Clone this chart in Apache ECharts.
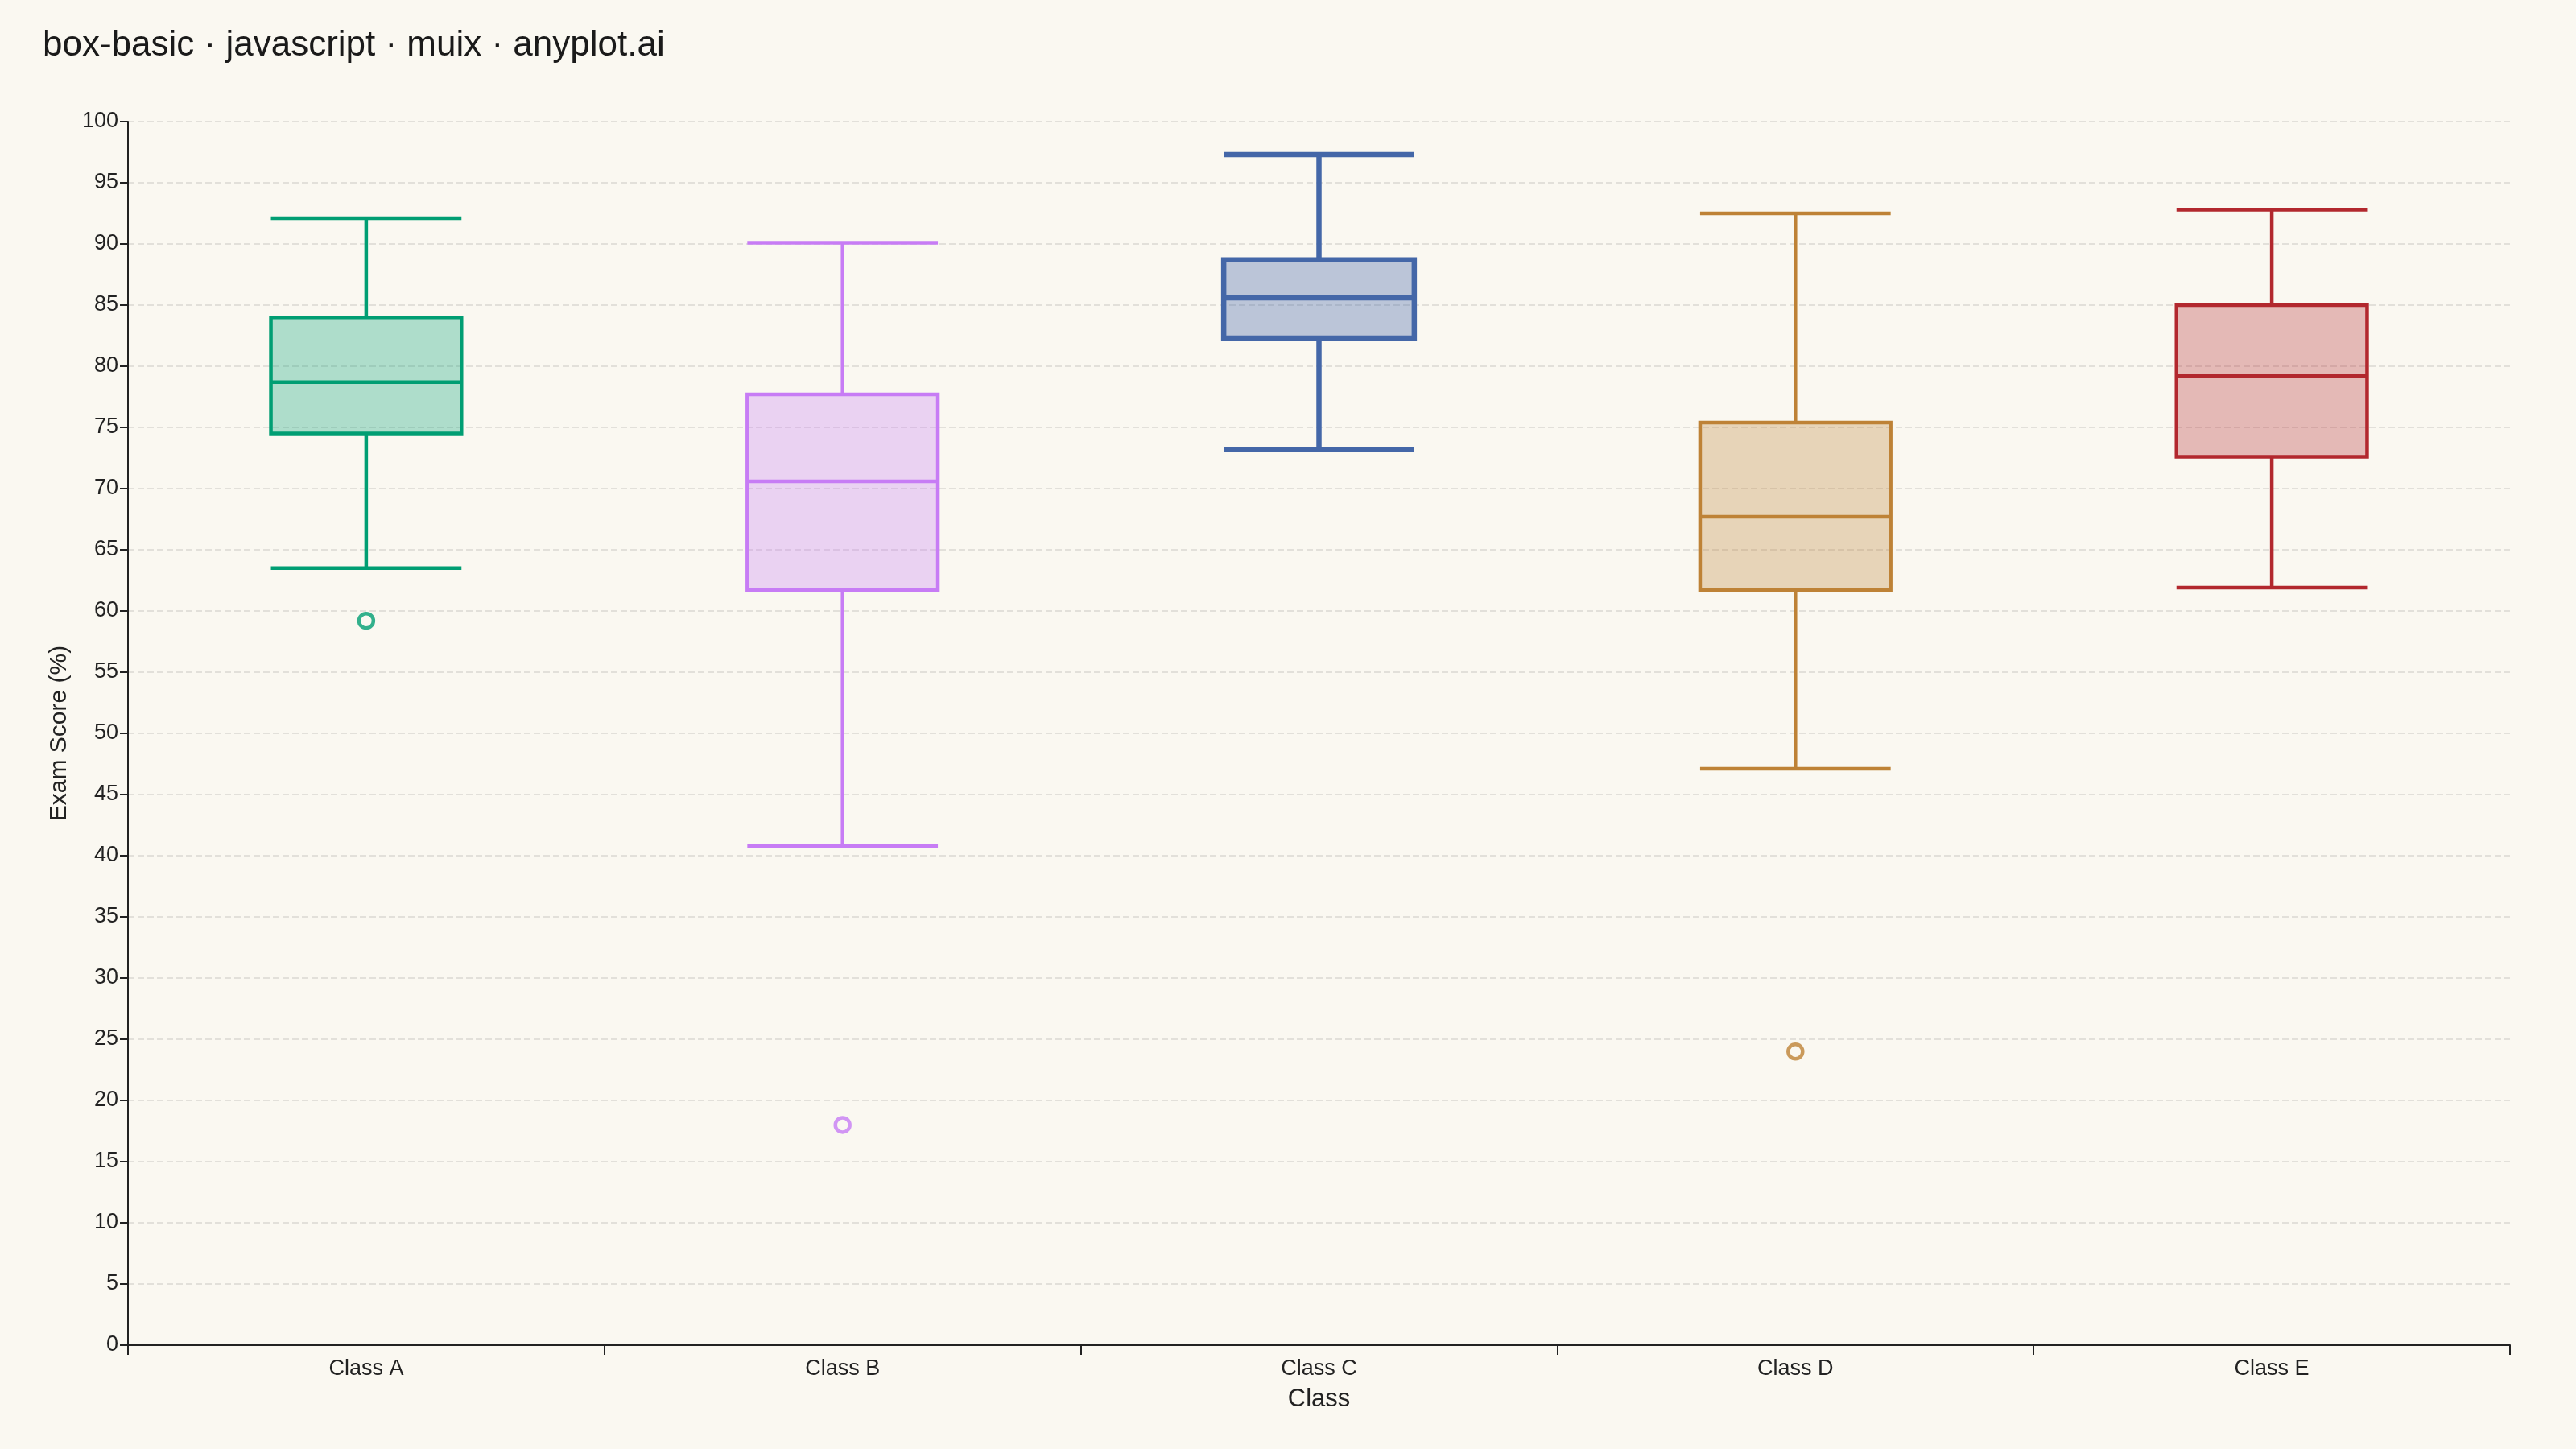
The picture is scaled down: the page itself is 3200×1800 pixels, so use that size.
<!DOCTYPE html>
<html>
<head>
<meta charset="utf-8">
<script src="https://cdn.jsdelivr.net/npm/echarts@6/dist/echarts.min.js"></script>
<style>html,body{margin:0;background:#FAF8F1;}#chart{width:3200px;height:1800px;}</style>
</head>
<body>
<div id="chart"></div>
<script>
var classes = ['Class A', 'Class B', 'Class C', 'Class D', 'Class E'];
// [min, Q1, median, Q3, max]
var boxStats = [
    [63.5, 74.5, 78.7, 84.0, 92.1],
    [40.8, 61.7, 70.6, 77.7, 90.1],
    [73.2, 82.3, 85.6, 88.7, 97.3],
    [47.1, 61.7, 67.7, 75.4, 92.5],
    [61.9, 72.6, 79.2, 85.0, 92.8]
];
var outliers = [['Class A', 59.2], ['Class B', 18.0], ['Class D', 24.0]];
var colors = ['#009E73', '#C77CF5', '#4467A8', '#BE8236', '#B2282E'];
var fills = ['rgba(0,158,115,0.3)', 'rgba(199,124,245,0.3)', 'rgba(68,103,168,0.35)', 'rgba(190,130,54,0.3)', 'rgba(178,40,46,0.3)'];
var borderWidths = [4.5, 4.5, 6.5, 4.5, 4.5];

var myChart = echarts.init(document.getElementById('chart'));

var option = {
    backgroundColor: '#FAF8F1',
    textStyle: { fontFamily: 'Liberation Sans, Arial, sans-serif' },
    title: {
        text: 'box-basic · javascript · muix · anyplot.ai',
        left: 48, top: 30,
        textStyle: { fontSize: 44, fontWeight: 'normal', color: '#1a1a1a' }
    },
    grid: { left: 159, right: 82, top: 151, bottom: 129 },
    xAxis: {
        type: 'category',
        data: classes,
        name: 'Class',
        nameLocation: 'middle',
        nameGap: 52,
        nameTextStyle: { fontSize: 31, color: '#222' },
        axisLine: { lineStyle: { color: '#222', width: 2 } },
        axisTick: { show: true, interval: 0, length: 12, lineStyle: { color: '#222', width: 2 } },
        axisLabel: { fontSize: 27, color: '#222', margin: 16, interval: 0 }
    },
    yAxis: {
        type: 'value',
        min: 0, max: 100, interval: 5,
        name: 'Exam Score (%)',
        nameLocation: 'middle',
        nameGap: 70,
        nameTextStyle: { fontSize: 30, color: '#222' },
        axisLine: { show: true, lineStyle: { color: '#222', width: 2 } },
        axisTick: { show: true, length: 10, lineStyle: { color: '#222', width: 2 } },
        axisLabel: { fontSize: 27, color: '#222', margin: 12 },
        splitLine: { lineStyle: { color: '#e2e0da', type: 'dashed', width: 2 } }
    },
    series: [{
        type: 'boxplot',
        boxWidth: ['40%', '40%'],
        data: boxStats.map(function (s, i) {
            return {
                value: s,
                itemStyle: { color: fills[i], borderColor: colors[i], borderWidth: borderWidths[i] }
            };
        })
    }, {
        type: 'scatter',
        symbol: 'circle',
        symbolSize: 18,
        data: outliers.map(function (o) {
            var i = classes.indexOf(o[0]);
            return { value: o, itemStyle: { color: 'rgba(0,0,0,0)', borderColor: colors[i], borderWidth: 4.5 } };
        })
    }]
};

myChart.setOption(option);
</script>
</body>
</html>
